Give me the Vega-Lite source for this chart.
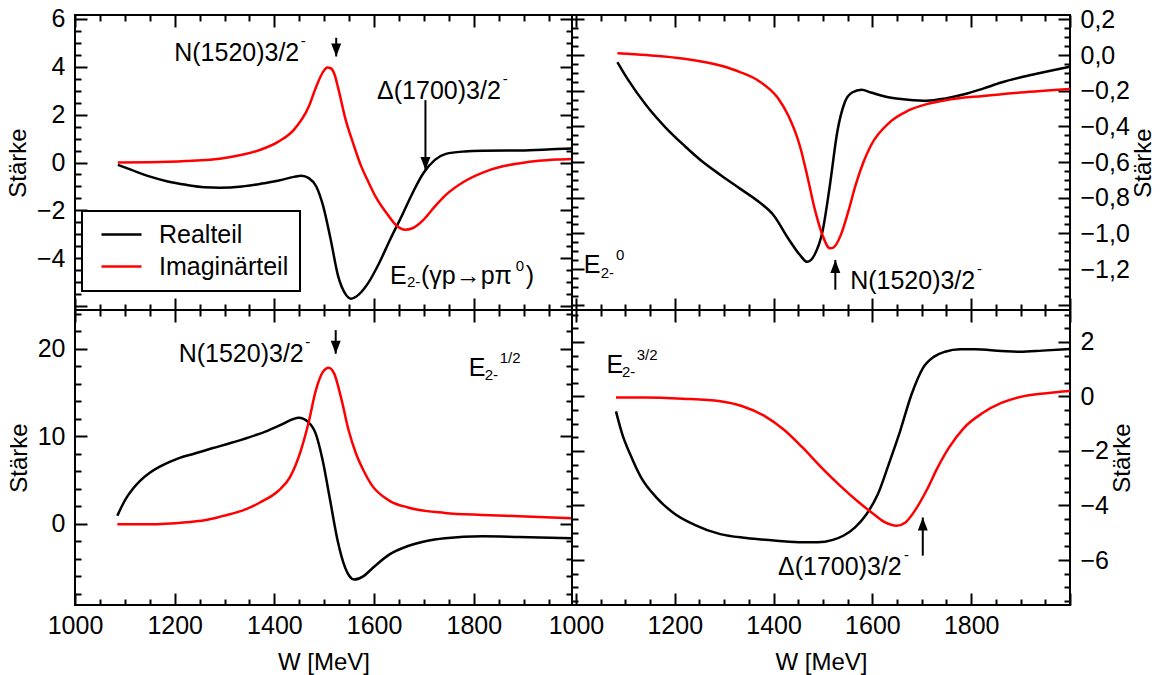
{
  "$schema": "https://vega.github.io/schema/vega-lite/v6.json",
  "padding": {"left": 5, "top": 5, "right": 0, "bottom": 5},
  "config": {
    "font": "Liberation Sans",
    "view": {"stroke": "black", "strokeWidth": 2},
    "axis": {"domain": false, "grid": false, "tickColor": "black", "tickWidth": 2, "labelFontSize": 25, "titleFontSize": 24, "labelColor": "black", "titleColor": "black", "titleFontWeight": "normal", "labelFont": "Liberation Sans", "titleFont": "Liberation Sans", "labelOverlap": false, "labelFlush": false, "titlePadding": 6},
    "axisBottom": {"labelPadding": 20},
    "axisLeft": {"labelPadding": 22},
    "axisRight": {"labelPadding": 22, "titlePadding": 2},
    "legend": {"strokeWidth": 2},
    "text": {"font": "Liberation Sans"}
  },
  "datasets": {
    "curves": [
      {"panel":"TL","part":"Realteil","W":1086,"v":-0.1},{"panel":"TL","part":"Realteil","W":1112,"v":-0.3},{"panel":"TL","part":"Realteil","W":1149,"v":-0.58},{"panel":"TL","part":"Realteil","W":1186,"v":-0.79},{"panel":"TL","part":"Realteil","W":1223,"v":-0.93},{"panel":"TL","part":"Realteil","W":1260,"v":-1.03},{"panel":"TL","part":"Realteil","W":1290,"v":-1.05},{"panel":"TL","part":"Realteil","W":1335,"v":-1.0},{"panel":"TL","part":"Realteil","W":1372,"v":-0.89},{"panel":"TL","part":"Realteil","W":1409,"v":-0.75},{"panel":"TL","part":"Realteil","W":1439,"v":-0.6},{"panel":"TL","part":"Realteil","W":1454,"v":-0.55},{"panel":"TL","part":"Realteil","W":1469,"v":-0.65},{"panel":"TL","part":"Realteil","W":1484,"v":-1.0},{"panel":"TL","part":"Realteil","W":1498,"v":-1.83},{"panel":"TL","part":"Realteil","W":1513,"v":-3.22},{"panel":"TL","part":"Realteil","W":1528,"v":-4.75},{"panel":"TL","part":"Realteil","W":1543,"v":-5.5},{"panel":"TL","part":"Realteil","W":1554,"v":-5.68},{"panel":"TL","part":"Realteil","W":1569,"v":-5.51},{"panel":"TL","part":"Realteil","W":1588,"v":-5.03},{"panel":"TL","part":"Realteil","W":1610,"v":-4.2},{"panel":"TL","part":"Realteil","W":1632,"v":-3.22},{"panel":"TL","part":"Realteil","W":1655,"v":-2.25},{"panel":"TL","part":"Realteil","W":1677,"v":-1.28},{"panel":"TL","part":"Realteil","W":1699,"v":-0.44},{"panel":"TL","part":"Realteil","W":1722,"v":0.11},{"panel":"TL","part":"Realteil","W":1744,"v":0.36},{"panel":"TL","part":"Realteil","W":1781,"v":0.46},{"panel":"TL","part":"Realteil","W":1818,"v":0.49},{"panel":"TL","part":"Realteil","W":1893,"v":0.5},{"panel":"TL","part":"Realteil","W":1967,"v":0.56},{"panel":"TL","part":"Realteil","W":1997,"v":0.58},
      {"panel":"TL","part":"Imaginärteil","W":1086,"v":0},{"panel":"TL","part":"Imaginärteil","W":1149,"v":0.01},{"panel":"TL","part":"Imaginärteil","W":1223,"v":0.06},{"panel":"TL","part":"Imaginärteil","W":1297,"v":0.18},{"panel":"TL","part":"Imaginärteil","W":1335,"v":0.32},{"panel":"TL","part":"Imaginärteil","W":1372,"v":0.53},{"panel":"TL","part":"Imaginärteil","W":1409,"v":0.88},{"panel":"TL","part":"Imaginärteil","W":1439,"v":1.36},{"panel":"TL","part":"Imaginärteil","W":1469,"v":2.33},{"panel":"TL","part":"Imaginärteil","W":1484,"v":3.17},{"panel":"TL","part":"Imaginärteil","W":1498,"v":3.79},{"panel":"TL","part":"Imaginärteil","W":1506,"v":3.96},{"panel":"TL","part":"Imaginärteil","W":1513,"v":3.93},{"panel":"TL","part":"Imaginärteil","W":1521,"v":3.65},{"panel":"TL","part":"Imaginärteil","W":1528,"v":3.1},{"panel":"TL","part":"Imaginärteil","W":1543,"v":1.78},{"panel":"TL","part":"Imaginärteil","W":1558,"v":0.8},{"panel":"TL","part":"Imaginärteil","W":1573,"v":-0.1},{"panel":"TL","part":"Imaginärteil","W":1588,"v":-0.79},{"panel":"TL","part":"Imaginärteil","W":1603,"v":-1.42},{"panel":"TL","part":"Imaginärteil","W":1625,"v":-2.11},{"panel":"TL","part":"Imaginärteil","W":1647,"v":-2.67},{"panel":"TL","part":"Imaginärteil","W":1662,"v":-2.8},{"panel":"TL","part":"Imaginärteil","W":1677,"v":-2.74},{"panel":"TL","part":"Imaginärteil","W":1699,"v":-2.39},{"panel":"TL","part":"Imaginärteil","W":1722,"v":-1.83},{"panel":"TL","part":"Imaginärteil","W":1744,"v":-1.35},{"panel":"TL","part":"Imaginärteil","W":1781,"v":-0.79},{"panel":"TL","part":"Imaginärteil","W":1818,"v":-0.42},{"panel":"TL","part":"Imaginärteil","W":1856,"v":-0.17},{"panel":"TL","part":"Imaginärteil","W":1893,"v":-0.03},{"panel":"TL","part":"Imaginärteil","W":1930,"v":0.07},{"panel":"TL","part":"Imaginärteil","W":1967,"v":0.125},{"panel":"TL","part":"Imaginärteil","W":1997,"v":0.15},
      {"panel":"TR","part":"Realteil","W":1084,"v":-0.04},{"panel":"TR","part":"Realteil","W":1105,"v":-0.136},{"panel":"TR","part":"Realteil","W":1143,"v":-0.284},{"panel":"TR","part":"Realteil","W":1181,"v":-0.405},{"panel":"TR","part":"Realteil","W":1219,"v":-0.507},{"panel":"TR","part":"Realteil","W":1257,"v":-0.6},{"panel":"TR","part":"Realteil","W":1294,"v":-0.675},{"panel":"TR","part":"Realteil","W":1332,"v":-0.749},{"panel":"TR","part":"Realteil","W":1370,"v":-0.823},{"panel":"TR","part":"Realteil","W":1400,"v":-0.898},{"panel":"TR","part":"Realteil","W":1430,"v":-1.03},{"panel":"TR","part":"Realteil","W":1453,"v":-1.12},{"panel":"TR","part":"Realteil","W":1468,"v":-1.16},{"panel":"TR","part":"Realteil","W":1483,"v":-1.12},{"panel":"TR","part":"Realteil","W":1499,"v":-0.99},{"panel":"TR","part":"Realteil","W":1514,"v":-0.73},{"panel":"TR","part":"Realteil","W":1529,"v":-0.43},{"panel":"TR","part":"Realteil","W":1544,"v":-0.266},{"panel":"TR","part":"Realteil","W":1559,"v":-0.21},{"panel":"TR","part":"Realteil","W":1578,"v":-0.195},{"panel":"TR","part":"Realteil","W":1597,"v":-0.21},{"panel":"TR","part":"Realteil","W":1635,"v":-0.238},{"panel":"TR","part":"Realteil","W":1672,"v":-0.25},{"panel":"TR","part":"Realteil","W":1710,"v":-0.256},{"panel":"TR","part":"Realteil","W":1748,"v":-0.243},{"panel":"TR","part":"Realteil","W":1786,"v":-0.22},{"panel":"TR","part":"Realteil","W":1824,"v":-0.188},{"panel":"TR","part":"Realteil","W":1861,"v":-0.154},{"panel":"TR","part":"Realteil","W":1899,"v":-0.126},{"panel":"TR","part":"Realteil","W":1937,"v":-0.102},{"panel":"TR","part":"Realteil","W":2000,"v":-0.065},
      {"panel":"TR","part":"Imaginärteil","W":1084,"v":0.01},{"panel":"TR","part":"Imaginärteil","W":1143,"v":0.0},{"panel":"TR","part":"Imaginärteil","W":1219,"v":-0.02},{"panel":"TR","part":"Imaginärteil","W":1294,"v":-0.06},{"panel":"TR","part":"Imaginärteil","W":1332,"v":-0.095},{"panel":"TR","part":"Imaginärteil","W":1370,"v":-0.145},{"panel":"TR","part":"Imaginärteil","W":1408,"v":-0.238},{"panel":"TR","part":"Imaginärteil","W":1430,"v":-0.34},{"panel":"TR","part":"Imaginärteil","W":1453,"v":-0.507},{"panel":"TR","part":"Imaginärteil","W":1468,"v":-0.675},{"panel":"TR","part":"Imaginärteil","W":1483,"v":-0.86},{"panel":"TR","part":"Imaginärteil","W":1499,"v":-1.01},{"panel":"TR","part":"Imaginärteil","W":1514,"v":-1.084},{"panel":"TR","part":"Imaginärteil","W":1521,"v":-1.08},{"panel":"TR","part":"Imaginärteil","W":1536,"v":-1.01},{"panel":"TR","part":"Imaginärteil","W":1551,"v":-0.88},{"panel":"TR","part":"Imaginärteil","W":1566,"v":-0.73},{"panel":"TR","part":"Imaginärteil","W":1582,"v":-0.6},{"panel":"TR","part":"Imaginärteil","W":1597,"v":-0.507},{"panel":"TR","part":"Imaginärteil","W":1635,"v":-0.377},{"panel":"TR","part":"Imaginärteil","W":1672,"v":-0.312},{"panel":"TR","part":"Imaginärteil","W":1710,"v":-0.275},{"panel":"TR","part":"Imaginärteil","W":1748,"v":-0.253},{"panel":"TR","part":"Imaginärteil","W":1824,"v":-0.229},{"panel":"TR","part":"Imaginärteil","W":1899,"v":-0.21},{"panel":"TR","part":"Imaginärteil","W":2000,"v":-0.19},
      {"panel":"BL","part":"Realteil","W":1085,"v":0.9},{"panel":"BL","part":"Realteil","W":1095,"v":2.1},{"panel":"BL","part":"Realteil","W":1105,"v":3.1},{"panel":"BL","part":"Realteil","W":1115,"v":3.9},{"panel":"BL","part":"Realteil","W":1130,"v":4.85},{"panel":"BL","part":"Realteil","W":1150,"v":5.8},{"panel":"BL","part":"Realteil","W":1170,"v":6.5},{"panel":"BL","part":"Realteil","W":1190,"v":7.05},{"panel":"BL","part":"Realteil","W":1210,"v":7.5},{"panel":"BL","part":"Realteil","W":1240,"v":8.0},{"panel":"BL","part":"Realteil","W":1275,"v":8.6},{"panel":"BL","part":"Realteil","W":1312,"v":9.2},{"panel":"BL","part":"Realteil","W":1349,"v":9.85},{"panel":"BL","part":"Realteil","W":1386,"v":10.6},{"panel":"BL","part":"Realteil","W":1416,"v":11.35},{"panel":"BL","part":"Realteil","W":1438,"v":11.95},{"panel":"BL","part":"Realteil","W":1449,"v":12.08},{"panel":"BL","part":"Realteil","W":1468,"v":11.59},{"panel":"BL","part":"Realteil","W":1483,"v":10.25},{"panel":"BL","part":"Realteil","W":1497,"v":7.19},{"panel":"BL","part":"Realteil","W":1512,"v":2.6},{"panel":"BL","part":"Realteil","W":1527,"v":-1.99},{"panel":"BL","part":"Realteil","W":1542,"v":-5.05},{"panel":"BL","part":"Realteil","W":1560,"v":-6.39},{"panel":"BL","part":"Realteil","W":1579,"v":-6.0},{"panel":"BL","part":"Realteil","W":1594,"v":-5.24},{"panel":"BL","part":"Realteil","W":1631,"v":-3.52},{"panel":"BL","part":"Realteil","W":1668,"v":-2.56},{"panel":"BL","part":"Realteil","W":1705,"v":-1.99},{"panel":"BL","part":"Realteil","W":1742,"v":-1.68},{"panel":"BL","part":"Realteil","W":1817,"v":-1.45},{"panel":"BL","part":"Realteil","W":1891,"v":-1.53},{"panel":"BL","part":"Realteil","W":1997,"v":-1.68},
      {"panel":"BL","part":"Imaginärteil","W":1085,"v":-0.08},{"panel":"BL","part":"Imaginärteil","W":1148,"v":-0.08},{"panel":"BL","part":"Imaginärteil","W":1223,"v":0.15},{"panel":"BL","part":"Imaginärteil","W":1260,"v":0.38},{"panel":"BL","part":"Imaginärteil","W":1297,"v":0.88},{"panel":"BL","part":"Imaginärteil","W":1334,"v":1.45},{"panel":"BL","part":"Imaginärteil","W":1371,"v":2.41},{"panel":"BL","part":"Imaginärteil","W":1408,"v":3.75},{"panel":"BL","part":"Imaginärteil","W":1431,"v":5.28},{"panel":"BL","part":"Imaginärteil","W":1453,"v":8.34},{"panel":"BL","part":"Imaginärteil","W":1468,"v":11.4},{"panel":"BL","part":"Imaginärteil","W":1483,"v":15.2},{"panel":"BL","part":"Imaginärteil","W":1497,"v":17.3},{"panel":"BL","part":"Imaginärteil","W":1509,"v":17.8},{"panel":"BL","part":"Imaginärteil","W":1520,"v":17.13},{"panel":"BL","part":"Imaginärteil","W":1535,"v":14.07},{"panel":"BL","part":"Imaginärteil","W":1549,"v":10.63},{"panel":"BL","part":"Imaginärteil","W":1564,"v":7.95},{"panel":"BL","part":"Imaginärteil","W":1579,"v":6.04},{"panel":"BL","part":"Imaginärteil","W":1594,"v":4.51},{"panel":"BL","part":"Imaginärteil","W":1631,"v":2.6},{"panel":"BL","part":"Imaginärteil","W":1668,"v":1.84},{"panel":"BL","part":"Imaginärteil","W":1742,"v":1.22},{"panel":"BL","part":"Imaginärteil","W":1817,"v":0.99},{"panel":"BL","part":"Imaginärteil","W":1891,"v":0.84},{"panel":"BL","part":"Imaginärteil","W":1997,"v":0.61},
      {"panel":"BR","part":"Realteil","W":1081,"v":-0.55},{"panel":"BR","part":"Realteil","W":1094,"v":-1.4},{"panel":"BR","part":"Realteil","W":1110,"v":-2.13},{"panel":"BR","part":"Realteil","W":1132,"v":-2.98},{"panel":"BR","part":"Realteil","W":1163,"v":-3.71},{"panel":"BR","part":"Realteil","W":1201,"v":-4.32},{"panel":"BR","part":"Realteil","W":1239,"v":-4.7},{"panel":"BR","part":"Realteil","W":1292,"v":-5.05},{"panel":"BR","part":"Realteil","W":1345,"v":-5.19},{"panel":"BR","part":"Realteil","W":1406,"v":-5.29},{"panel":"BR","part":"Realteil","W":1459,"v":-5.35},{"panel":"BR","part":"Realteil","W":1489,"v":-5.35},{"panel":"BR","part":"Realteil","W":1520,"v":-5.26},{"panel":"BR","part":"Realteil","W":1542,"v":-5.1},{"panel":"BR","part":"Realteil","W":1565,"v":-4.8},{"panel":"BR","part":"Realteil","W":1588,"v":-4.32},{"panel":"BR","part":"Realteil","W":1611,"v":-3.59},{"panel":"BR","part":"Realteil","W":1633,"v":-2.49},{"panel":"BR","part":"Realteil","W":1656,"v":-1.28},{"panel":"BR","part":"Realteil","W":1679,"v":0.06},{"panel":"BR","part":"Realteil","W":1702,"v":1.03},{"panel":"BR","part":"Realteil","W":1725,"v":1.46},{"panel":"BR","part":"Realteil","W":1747,"v":1.64},{"panel":"BR","part":"Realteil","W":1778,"v":1.73},{"panel":"BR","part":"Realteil","W":1808,"v":1.73},{"panel":"BR","part":"Realteil","W":1861,"v":1.67},{"panel":"BR","part":"Realteil","W":1899,"v":1.64},{"panel":"BR","part":"Realteil","W":1944,"v":1.68},{"panel":"BR","part":"Realteil","W":2000,"v":1.74},
      {"panel":"BR","part":"Imaginärteil","W":1081,"v":-0.04},{"panel":"BR","part":"Imaginärteil","W":1140,"v":-0.04},{"panel":"BR","part":"Imaginärteil","W":1216,"v":-0.085},{"panel":"BR","part":"Imaginärteil","W":1292,"v":-0.18},{"panel":"BR","part":"Imaginärteil","W":1337,"v":-0.36},{"panel":"BR","part":"Imaginärteil","W":1383,"v":-0.73},{"panel":"BR","part":"Imaginärteil","W":1421,"v":-1.22},{"panel":"BR","part":"Imaginärteil","W":1459,"v":-1.88},{"panel":"BR","part":"Imaginärteil","W":1497,"v":-2.61},{"panel":"BR","part":"Imaginärteil","W":1535,"v":-3.28},{"panel":"BR","part":"Imaginärteil","W":1573,"v":-3.89},{"panel":"BR","part":"Imaginärteil","W":1603,"v":-4.32},{"panel":"BR","part":"Imaginärteil","W":1626,"v":-4.62},{"panel":"BR","part":"Imaginärteil","W":1649,"v":-4.74},{"panel":"BR","part":"Imaginärteil","W":1667,"v":-4.62},{"panel":"BR","part":"Imaginärteil","W":1686,"v":-4.19},{"panel":"BR","part":"Imaginärteil","W":1709,"v":-3.47},{"panel":"BR","part":"Imaginärteil","W":1732,"v":-2.61},{"panel":"BR","part":"Imaginärteil","W":1755,"v":-1.88},{"panel":"BR","part":"Imaginärteil","W":1785,"v":-1.16},{"panel":"BR","part":"Imaginärteil","W":1823,"v":-0.61},{"panel":"BR","part":"Imaginärteil","W":1861,"v":-0.24},{"panel":"BR","part":"Imaginärteil","W":1899,"v":-0.02},{"panel":"BR","part":"Imaginärteil","W":1952,"v":0.12},{"panel":"BR","part":"Imaginärteil","W":2000,"v":0.2}
    ],
    "labels": [
      {"panel":"TL","W":1199,"v":4.56,"text":"N(1520)3/2"},
      {"panel":"TL","W":1606,"v":3.0,"text":"Δ(1700)3/2"},
      {"panel":"TL","W":1632,"v":-4.72,"text":"E"},
      {"panel":"TL","W":1694,"v":-4.72,"text":"(γp→pπ"},
      {"panel":"TL","W":1904,"v":-4.72,"text":")"},
      {"panel":"TR","W":1016,"v":-1.18,"text":"E"},
      {"panel":"TR","W":1555,"v":-1.266,"text":"N(1520)3/2"},
      {"panel":"BL","W":1208,"v":19.43,"text":"N(1520)3/2"},
      {"panel":"BL","W":1790,"v":17.8,"text":"E"},
      {"panel":"BR","W":1062,"v":1.15,"text":"E"},
      {"panel":"BR","W":1409,"v":-6.26,"text":"Δ(1700)3/2"}
    ],
    "small": [
      {"panel":"TL","W":1453,"v":5.06,"text":"-"},
      {"panel":"TL","W":1858,"v":3.5,"text":"-"},
      {"panel":"TL","W":1666,"v":-5.0,"text":"2-"},
      {"panel":"TL","W":1884,"v":-4.3,"text":"0"},
      {"panel":"TR","W":1050,"v":-1.22,"text":"2-"},
      {"panel":"TR","W":1081,"v":-1.124,"text":"0"},
      {"panel":"TR","W":1812,"v":-1.2,"text":"-"},
      {"panel":"BL","W":1462,"v":20.8,"text":"-"},
      {"panel":"BL","W":1822,"v":17.0,"text":"2-"},
      {"panel":"BL","W":1852,"v":18.95,"text":"1/2"},
      {"panel":"BR","W":1093,"v":0.89,"text":"2-"},
      {"panel":"BR","W":1123,"v":1.52,"text":"3/2"},
      {"panel":"BR","W":1664,"v":-5.82,"text":"-"}
    ],
    "arrows": [
      {"panel":"TL","W":1524,"tail":5.2,"tip":4.42,"dir":"down"},
      {"panel":"TL","W":1703,"tail":2.6,"tip":-0.31,"dir":"down"},
      {"panel":"TR","W":1525,"tail":-1.316,"tip":-1.149,"dir":"up"},
      {"panel":"BL","W":1523,"tail":22.1,"tip":19.4,"dir":"down"},
      {"panel":"BR","W":1702,"tail":-5.84,"tip":-4.44,"dir":"up"}
    ]
  },
  "columns": 2,
  "spacing": 0,
  "bounds": "flush",
  "resolve": {"scale": {"color": "independent"}},
  "concat": [
    {
      "width": 497, "height": 295,
      "resolve": {"axis": {"x": "independent", "y": "independent"}},
      "layer": [
        {
          "data": {"name": "curves"}, "transform": [{"filter": "datum.panel === 'TL'"}],
          "mark": {"type": "line", "strokeWidth": 2.5, "interpolate": "monotone", "clip": true},
          "encoding": {
            "x": {"field": "W", "type": "quantitative", "scale": {"domain": [1000, 1997], "nice": false, "zero": false},
              "axis": {"orient": "bottom", "values": [1000,1050,1100,1150,1200,1250,1300,1350,1400,1450,1500,1550,1600,1650,1700,1750,1800,1850,1900,1950], "labels": false, "title": null, "tickSize": {"condition": {"test": "datum.value % 200 === 0", "value": -12}, "value": -6}}},
            "y": {"field": "v", "type": "quantitative", "scale": {"domain": [-6.15, 6.15], "nice": false, "zero": false},
              "axis": {"orient": "left", "values": [-6,-5.5,-5,-4.5,-4,-3.5,-3,-2.5,-2,-1.5,-1,-0.5,0,0.5,1,1.5,2,2.5,3,3.5,4,4.5,5,5.5,6], "labelExpr": "datum.value % 2 === 0 && datum.value > -5 ? format(datum.value, 'd') : ''", "title": "Stärke", "tickSize": {"condition": {"test": "datum.value % 2 === 0", "value": -12}, "value": -6}}},
            "color": {"field": "part", "type": "nominal", "scale": {"domain": ["Realteil", "Imaginärteil"], "range": ["black", "#ff0000"]},
              "legend": {"orient": "none", "legendX": 7, "legendY": 196, "title": null, "strokeColor": "black", "fillColor": "white", "padding": 11, "labelFontSize": 25, "labelFont": "Liberation Sans", "labelColor": "black", "symbolType": "M-2,0L2,0", "symbolSize": 400, "symbolStrokeWidth": 2.5, "labelOffset": 25, "rowPadding": 6, "symbolOffset": 16}}
          }
        },
        {
          "data": {"name": "arrows"}, "transform": [{"filter": "datum.panel === 'TL'"}],
          "mark": {"type": "rule", "strokeWidth": 2, "color": "black"},
          "encoding": {
            "x": {"field": "W", "type": "quantitative",
              "axis": {"orient": "top", "values": [1000,1050,1100,1150,1200,1250,1300,1350,1400,1450,1500,1550,1600,1650,1700,1750,1800,1850,1900,1950], "labels": false, "title": null, "tickSize": {"condition": {"test": "datum.value % 200 === 0", "value": -12}, "value": -6}}},
            "y": {"field": "tail", "type": "quantitative",
              "axis": {"orient": "right", "values": [-6,-5.5,-5,-4.5,-4,-3.5,-3,-2.5,-2,-1.5,-1,-0.5,0,0.5,1,1.5,2,2.5,3,3.5,4,4.5,5,5.5,6], "labels": false, "title": null, "tickSize": {"condition": {"test": "datum.value % 2 === 0", "value": -12}, "value": -6}}},
            "y2": {"field": "tip"}
          }
        },
        {
          "data": {"name": "arrows"}, "transform": [{"filter": "datum.panel === 'TL'"}],
          "mark": {"type": "point", "filled": true, "size": 400, "opacity": 1, "color": "black", "strokeWidth": 0},
          "encoding": {
            "x": {"field": "W", "type": "quantitative", "axis": null},
            "y": {"field": "tip", "type": "quantitative", "axis": null},
            "shape": {"field": "dir", "type": "nominal", "scale": {"domain": ["down", "up"], "range": ["M-0.5,-1.3L0.5,-1.3L0,0Z", "M-0.5,1.3L0.5,1.3L0,0Z"]}, "legend": null}
          }
        },
        {
          "data": {"name": "labels"}, "transform": [{"filter": "datum.panel === 'TL'"}],
          "mark": {"type": "text", "fontSize": 25, "align": "left", "baseline": "middle", "color": "black"},
          "encoding": {
            "x": {"field": "W", "type": "quantitative", "axis": null},
            "y": {"field": "v", "type": "quantitative", "axis": null},
            "text": {"field": "text"}
          }
        },
        {
          "data": {"name": "small"}, "transform": [{"filter": "datum.panel === 'TL'"}],
          "mark": {"type": "text", "fontSize": 15, "align": "left", "baseline": "middle", "color": "black"},
          "encoding": {
            "x": {"field": "W", "type": "quantitative", "axis": null},
            "y": {"field": "v", "type": "quantitative", "axis": null},
            "text": {"field": "text"}
          }
        }
      ]
    },
    {
      "width": 498, "height": 295,
      "resolve": {"axis": {"x": "independent", "y": "independent"}},
      "layer": [
        {
          "data": {"name": "curves"}, "transform": [{"filter": "datum.panel === 'TR'"}],
          "mark": {"type": "line", "strokeWidth": 2.5, "interpolate": "monotone", "clip": true},
          "encoding": {
            "x": {"field": "W", "type": "quantitative", "scale": {"domain": [992, 2000], "nice": false, "zero": false},
              "axis": {"orient": "bottom", "values": [1000,1050,1100,1150,1200,1250,1300,1350,1400,1450,1500,1550,1600,1650,1700,1750,1800,1850,1900,1950,2000], "labels": false, "title": null, "tickSize": {"condition": {"test": "datum.value % 200 === 0", "value": -12}, "value": -6}}},
            "y": {"field": "v", "type": "quantitative", "scale": {"domain": [-1.43, 0.225], "nice": false, "zero": false},
              "axis": {"orient": "right", "values": [-1.4,-1.35,-1.3,-1.25,-1.2,-1.15,-1.1,-1.05,-1,-0.95,-0.9,-0.85,-0.8,-0.75,-0.7,-0.65,-0.6,-0.55,-0.5,-0.45,-0.4,-0.35,-0.3,-0.25,-0.2,-0.15,-0.1,-0.05,0,0.05,0.1,0.15,0.2], "labelExpr": "abs(round(datum.value * 100)) % 20 === 0 && datum.value > -1.3 ? replace(format(datum.value, '.1f'), '.', ',') : ''", "title": "Stärke", "titleAngle": 270, "titleBaseline": "top", "tickSize": {"condition": {"test": "abs(round(datum.value * 100)) % 20 === 0", "value": -12}, "value": -6}}},
            "color": {"field": "part", "type": "nominal", "scale": {"domain": ["Realteil", "Imaginärteil"], "range": ["black", "#ff0000"]}, "legend": null}
          }
        },
        {
          "data": {"name": "arrows"}, "transform": [{"filter": "datum.panel === 'TR'"}],
          "mark": {"type": "rule", "strokeWidth": 2, "color": "black"},
          "encoding": {
            "x": {"field": "W", "type": "quantitative",
              "axis": {"orient": "top", "values": [1000,1050,1100,1150,1200,1250,1300,1350,1400,1450,1500,1550,1600,1650,1700,1750,1800,1850,1900,1950,2000], "labels": false, "title": null, "tickSize": {"condition": {"test": "datum.value % 200 === 0", "value": -12}, "value": -6}}},
            "y": {"field": "tail", "type": "quantitative",
              "axis": {"orient": "left", "values": [-1.4,-1.35,-1.3,-1.25,-1.2,-1.15,-1.1,-1.05,-1,-0.95,-0.9,-0.85,-0.8,-0.75,-0.7,-0.65,-0.6,-0.55,-0.5,-0.45,-0.4,-0.35,-0.3,-0.25,-0.2,-0.15,-0.1,-0.05,0,0.05,0.1,0.15,0.2], "labels": false, "title": null, "tickSize": {"condition": {"test": "abs(round(datum.value * 100)) % 20 === 0", "value": -12}, "value": -6}}},
            "y2": {"field": "tip"}
          }
        },
        {
          "data": {"name": "arrows"}, "transform": [{"filter": "datum.panel === 'TR'"}],
          "mark": {"type": "point", "filled": true, "size": 400, "opacity": 1, "color": "black", "strokeWidth": 0},
          "encoding": {
            "x": {"field": "W", "type": "quantitative", "axis": null},
            "y": {"field": "tip", "type": "quantitative", "axis": null},
            "shape": {"field": "dir", "type": "nominal", "scale": {"domain": ["down", "up"], "range": ["M-0.5,-1.3L0.5,-1.3L0,0Z", "M-0.5,1.3L0.5,1.3L0,0Z"]}, "legend": null}
          }
        },
        {
          "data": {"name": "labels"}, "transform": [{"filter": "datum.panel === 'TR'"}],
          "mark": {"type": "text", "fontSize": 25, "align": "left", "baseline": "middle", "color": "black"},
          "encoding": {
            "x": {"field": "W", "type": "quantitative", "axis": null},
            "y": {"field": "v", "type": "quantitative", "axis": null},
            "text": {"field": "text"}
          }
        },
        {
          "data": {"name": "small"}, "transform": [{"filter": "datum.panel === 'TR'"}],
          "mark": {"type": "text", "fontSize": 15, "align": "left", "baseline": "middle", "color": "black"},
          "encoding": {
            "x": {"field": "W", "type": "quantitative", "axis": null},
            "y": {"field": "v", "type": "quantitative", "axis": null},
            "text": {"field": "text"}
          }
        }
      ]
    },
    {
      "width": 497, "height": 295,
      "resolve": {"axis": {"x": "independent", "y": "independent"}},
      "layer": [
        {
          "data": {"name": "curves"}, "transform": [{"filter": "datum.panel === 'BL'"}],
          "mark": {"type": "line", "strokeWidth": 2.5, "interpolate": "monotone", "clip": true},
          "encoding": {
            "x": {"field": "W", "type": "quantitative", "scale": {"domain": [1000, 1997], "nice": false, "zero": false},
              "axis": {"orient": "bottom", "values": [1000,1050,1100,1150,1200,1250,1300,1350,1400,1450,1500,1550,1600,1650,1700,1750,1800,1850,1900,1950], "labelExpr": "datum.value % 200 === 0 && datum.value < 1900 ? format(datum.value, 'd') : ''", "title": "W [MeV]", "tickSize": {"condition": {"test": "datum.value % 200 === 0", "value": -12}, "value": -6}}},
            "y": {"field": "v", "type": "quantitative", "scale": {"domain": [-9.3, 24.4], "nice": false, "zero": false},
              "axis": {"orient": "left", "values": [-8,-6,-4,-2,0,2,4,6,8,10,12,14,16,18,20,22,24], "labelExpr": "datum.value % 10 === 0 ? format(datum.value, 'd') : ''", "title": "Stärke", "tickSize": {"condition": {"test": "datum.value % 10 === 0", "value": -12}, "value": -6}}},
            "color": {"field": "part", "type": "nominal", "scale": {"domain": ["Realteil", "Imaginärteil"], "range": ["black", "#ff0000"]}, "legend": null}
          }
        },
        {
          "data": {"name": "arrows"}, "transform": [{"filter": "datum.panel === 'BL'"}],
          "mark": {"type": "rule", "strokeWidth": 2, "color": "black"},
          "encoding": {
            "x": {"field": "W", "type": "quantitative",
              "axis": {"orient": "top", "values": [1000,1050,1100,1150,1200,1250,1300,1350,1400,1450,1500,1550,1600,1650,1700,1750,1800,1850,1900,1950], "labels": false, "title": null, "tickSize": {"condition": {"test": "datum.value % 200 === 0", "value": -12}, "value": -6}}},
            "y": {"field": "tail", "type": "quantitative",
              "axis": {"orient": "right", "values": [-8,-6,-4,-2,0,2,4,6,8,10,12,14,16,18,20,22,24], "labels": false, "title": null, "tickSize": {"condition": {"test": "datum.value % 10 === 0", "value": -12}, "value": -6}}},
            "y2": {"field": "tip"}
          }
        },
        {
          "data": {"name": "arrows"}, "transform": [{"filter": "datum.panel === 'BL'"}],
          "mark": {"type": "point", "filled": true, "size": 400, "opacity": 1, "color": "black", "strokeWidth": 0},
          "encoding": {
            "x": {"field": "W", "type": "quantitative", "axis": null},
            "y": {"field": "tip", "type": "quantitative", "axis": null},
            "shape": {"field": "dir", "type": "nominal", "scale": {"domain": ["down", "up"], "range": ["M-0.5,-1.3L0.5,-1.3L0,0Z", "M-0.5,1.3L0.5,1.3L0,0Z"]}, "legend": null}
          }
        },
        {
          "data": {"name": "labels"}, "transform": [{"filter": "datum.panel === 'BL'"}],
          "mark": {"type": "text", "fontSize": 25, "align": "left", "baseline": "middle", "color": "black"},
          "encoding": {
            "x": {"field": "W", "type": "quantitative", "axis": null},
            "y": {"field": "v", "type": "quantitative", "axis": null},
            "text": {"field": "text"}
          }
        },
        {
          "data": {"name": "small"}, "transform": [{"filter": "datum.panel === 'BL'"}],
          "mark": {"type": "text", "fontSize": 15, "align": "left", "baseline": "middle", "color": "black"},
          "encoding": {
            "x": {"field": "W", "type": "quantitative", "axis": null},
            "y": {"field": "v", "type": "quantitative", "axis": null},
            "text": {"field": "text"}
          }
        }
      ]
    },
    {
      "width": 498, "height": 295,
      "resolve": {"axis": {"x": "independent", "y": "independent"}},
      "layer": [
        {
          "data": {"name": "curves"}, "transform": [{"filter": "datum.panel === 'BR'"}],
          "mark": {"type": "line", "strokeWidth": 2.5, "interpolate": "monotone", "clip": true},
          "encoding": {
            "x": {"field": "W", "type": "quantitative", "scale": {"domain": [992, 2000], "nice": false, "zero": false},
              "axis": {"orient": "bottom", "values": [1000,1050,1100,1150,1200,1250,1300,1350,1400,1450,1500,1550,1600,1650,1700,1750,1800,1850,1900,1950,2000], "labelExpr": "datum.value % 200 === 0 && datum.value < 1900 ? format(datum.value, 'd') : ''", "title": "W [MeV]", "tickSize": {"condition": {"test": "datum.value % 200 === 0", "value": -12}, "value": -6}}},
            "y": {"field": "v", "type": "quantitative", "scale": {"domain": [-7.65, 3.17], "nice": false, "zero": false},
              "axis": {"orient": "right", "values": [-7.5,-7,-6.5,-6,-5.5,-5,-4.5,-4,-3.5,-3,-2.5,-2,-1.5,-1,-0.5,0,0.5,1,1.5,2,2.5,3], "labelExpr": "datum.value % 2 === 0 ? format(datum.value, 'd') : ''", "title": "Stärke", "titleAngle": 270, "titleBaseline": "top", "tickSize": {"condition": {"test": "datum.value % 2 === 0", "value": -12}, "value": -6}}},
            "color": {"field": "part", "type": "nominal", "scale": {"domain": ["Realteil", "Imaginärteil"], "range": ["black", "#ff0000"]}, "legend": null}
          }
        },
        {
          "data": {"name": "arrows"}, "transform": [{"filter": "datum.panel === 'BR'"}],
          "mark": {"type": "rule", "strokeWidth": 2, "color": "black"},
          "encoding": {
            "x": {"field": "W", "type": "quantitative",
              "axis": {"orient": "top", "values": [1000,1050,1100,1150,1200,1250,1300,1350,1400,1450,1500,1550,1600,1650,1700,1750,1800,1850,1900,1950,2000], "labels": false, "title": null, "tickSize": {"condition": {"test": "datum.value % 200 === 0", "value": -12}, "value": -6}}},
            "y": {"field": "tail", "type": "quantitative",
              "axis": {"orient": "left", "values": [-7.5,-7,-6.5,-6,-5.5,-5,-4.5,-4,-3.5,-3,-2.5,-2,-1.5,-1,-0.5,0,0.5,1,1.5,2,2.5,3], "labels": false, "title": null, "tickSize": {"condition": {"test": "datum.value % 2 === 0", "value": -12}, "value": -6}}},
            "y2": {"field": "tip"}
          }
        },
        {
          "data": {"name": "arrows"}, "transform": [{"filter": "datum.panel === 'BR'"}],
          "mark": {"type": "point", "filled": true, "size": 400, "opacity": 1, "color": "black", "strokeWidth": 0},
          "encoding": {
            "x": {"field": "W", "type": "quantitative", "axis": null},
            "y": {"field": "tip", "type": "quantitative", "axis": null},
            "shape": {"field": "dir", "type": "nominal", "scale": {"domain": ["down", "up"], "range": ["M-0.5,-1.3L0.5,-1.3L0,0Z", "M-0.5,1.3L0.5,1.3L0,0Z"]}, "legend": null}
          }
        },
        {
          "data": {"name": "labels"}, "transform": [{"filter": "datum.panel === 'BR'"}],
          "mark": {"type": "text", "fontSize": 25, "align": "left", "baseline": "middle", "color": "black"},
          "encoding": {
            "x": {"field": "W", "type": "quantitative", "axis": null},
            "y": {"field": "v", "type": "quantitative", "axis": null},
            "text": {"field": "text"}
          }
        },
        {
          "data": {"name": "small"}, "transform": [{"filter": "datum.panel === 'BR'"}],
          "mark": {"type": "text", "fontSize": 15, "align": "left", "baseline": "middle", "color": "black"},
          "encoding": {
            "x": {"field": "W", "type": "quantitative", "axis": null},
            "y": {"field": "v", "type": "quantitative", "axis": null},
            "text": {"field": "text"}
          }
        }
      ]
    }
  ]
}
